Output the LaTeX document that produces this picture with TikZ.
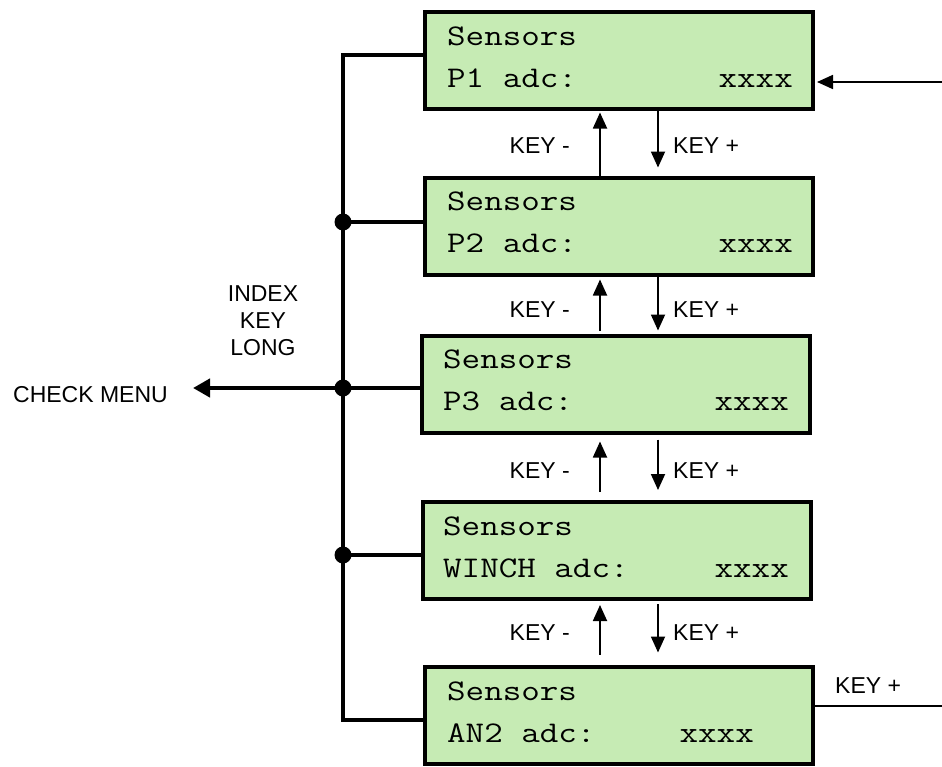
\documentclass[tikz,border=0pt]{standalone}
\usepackage{fontspec}
\setmainfont{Liberation Sans}
\usetikzlibrary{arrows.meta}
\definecolor{lcdgreen}{RGB}{198,235,180}
\newcommand{\lcdtext}[1]{\scalebox{1.2}[1]{#1}}
\begin{document}
\begin{tikzpicture}[x=1pt,y=-1pt,
  lcdbox/.style={draw=black,line width=4pt,fill=lcdgreen,minimum width=388pt,minimum height=97pt,inner sep=0pt},
  lcdtxt/.style={font=\ttfamily\fontsize{30}{30}\selectfont,inner sep=0pt},
  lbl/.style={font=\fontsize{23}{27}\selectfont,inner sep=0pt},
  bus/.style={line width=4.5pt,line join=miter},
  thinarrow/.style={line width=1.8pt,-{Triangle[length=16pt,width=14pt]}},
  thinline/.style={line width=1.8pt},
  dot/.style={fill=black}]
\useasboundingbox (0,0) rectangle (942,766);

% LCD boxes
\node[lcdbox] (b1) at (619,60) {};
\node[lcdbox] (b2) at (619,226) {};
\node[lcdbox] (b3) at (616,384) {};
\node[lcdbox] (b4) at (616.5,550.5) {};
\node[lcdbox] (b5) at (619,715) {};

% box texts
\node[lcdtxt,anchor=base west] (t1a) at (447,45) {\lcdtext{Sensors}};
\node[lcdtxt,anchor=base west] (t1b) at (447,87) {\lcdtext{P1 adc:}};
\node[lcdtxt,anchor=base east] (t1c) at (793,87) {\lcdtext{xxxx}};
\node[lcdtxt,anchor=base west] (t2a) at (447,210) {\lcdtext{Sensors}};
\node[lcdtxt,anchor=base west] (t2b) at (447,252) {\lcdtext{P2 adc:}};
\node[lcdtxt,anchor=base east] (t2c) at (793,252) {\lcdtext{xxxx}};
\node[lcdtxt,anchor=base west] (t3a) at (443,368) {\lcdtext{Sensors}};
\node[lcdtxt,anchor=base west] (t3b) at (443,410) {\lcdtext{P3 adc:}};
\node[lcdtxt,anchor=base east] (t3c) at (789,410) {\lcdtext{xxxx}};
\node[lcdtxt,anchor=base west] (t4a) at (443,535) {\lcdtext{Sensors}};
\node[lcdtxt,anchor=base west] (t4b) at (443,577) {\lcdtext{WINCH adc:}};
\node[lcdtxt,anchor=base east] (t4c) at (789,577) {\lcdtext{xxxx}};
\node[lcdtxt,anchor=base west] (t5a) at (447,700) {\lcdtext{Sensors}};
\node[lcdtxt,anchor=base west] (t5b) at (447,742) {\lcdtext{AN2 adc:}};
\node[lcdtxt,anchor=base east] (t5c) at (754,742) {\lcdtext{xxxx}};

% bus
\coordinate (j1) at (343,55);
\coordinate (j2) at (343,222);
\coordinate (j3) at (343,388);
\coordinate (j4) at (343,555);
\coordinate (j5) at (343,720);
\draw[bus] (b1.west |- j1) -- (j1) -- (j5) -- (b5.west |- j5);
\draw[bus] (j2) -- (b2.west |- j2);
\draw[bus] (j3) -- (b3.west |- j3);
\draw[bus] (j4) -- (b4.west |- j4);
\fill[dot] (j2) circle (8.5pt);
\fill[dot] (j3) circle (8.5pt);
\fill[dot] (j4) circle (8.5pt);

% check menu
\node[lbl,anchor=base east] (cm) at (168,402) {CHECK MENU};
\node[lbl,align=center] (idx) at (263,321) {INDEX\\KEY\\LONG};
\draw[bus,-{Triangle[length=17pt,width=18pt]}] (j3) -- (cm.east |- j3) [shorten >=25pt];

% key arrows
\coordinate (ux) at (600,0);
\coordinate (dx) at (658,0);
\draw[thinarrow,shorten <=0pt,shorten >=2pt] (b2.north -| ux) -- (b1.south -| ux);
\draw[thinarrow,shorten >=8pt] (b1.south -| dx) -- (b2.north -| dx);
\draw[thinarrow,shorten <=3pt,shorten >=3pt] (b3.north -| ux) -- (b2.south -| ux);
\draw[thinarrow,shorten >=3pt] (b2.south -| dx) -- (b3.north -| dx);
\draw[thinarrow,shorten <=8pt,shorten >=7pt] (b4.north -| ux) -- (b3.south -| ux);
\draw[thinarrow,shorten <=5pt,shorten >=10pt] (b3.south -| dx) -- (b4.north -| dx);
\draw[thinarrow,shorten <=10pt,shorten >=4pt] (b5.north -| ux) -- (b4.south -| ux);
\draw[thinarrow,shorten <=3pt,shorten >=12pt] (b4.south -| dx) -- (b5.north -| dx);

\node[lbl,anchor=east] (km1) at (570,146) {KEY -};
\node[lbl,anchor=west] (kp1) at (673,146) {KEY +};
\node[lbl,anchor=east] (km2) at (570,310) {KEY -};
\node[lbl,anchor=west] (kp2) at (673,310) {KEY +};
\node[lbl,anchor=east] (km3) at (570,471) {KEY -};
\node[lbl,anchor=west] (kp3) at (673,471) {KEY +};
\node[lbl,anchor=east] (km4) at (570,633) {KEY -};
\node[lbl,anchor=west] (kp4) at (673,633) {KEY +};

% right side
\coordinate (inR) at (942,82);
\draw[thinarrow,shorten >=2pt] (inR) -- (b1.east |- inR);
\coordinate (outR) at (942,706);
\draw[thinline] (b5.east |- outR) -- (outR);
\node[lbl,anchor=base west] (kpo) at (835,693) {KEY +};
\end{tikzpicture}
\end{document}
